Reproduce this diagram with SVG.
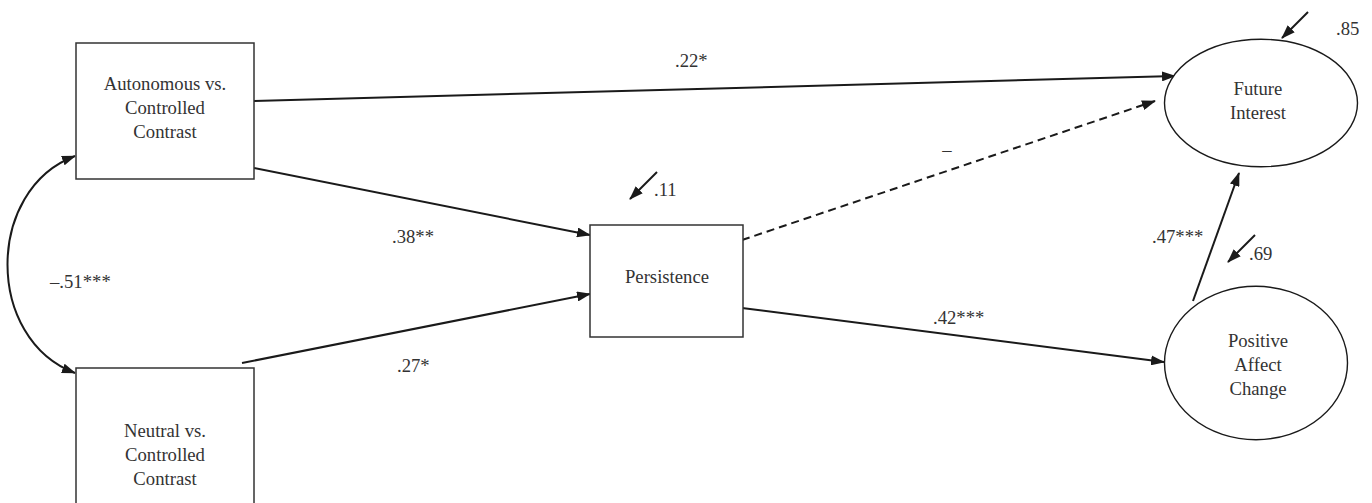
<svg xmlns="http://www.w3.org/2000/svg" width="1372" height="503" viewBox="0 0 1372 503">
<defs>
<marker id="ah" viewBox="0 0 14 10" refX="13" refY="5" markerWidth="14" markerHeight="10" markerUnits="userSpaceOnUse" orient="auto-start-reverse">
<path d="M0,0 L14,5 L0,10 z" fill="#1a1a1a"/>
</marker>
<style>
.box{fill:#fff;stroke:#333;stroke-width:1.5}
.ell{fill:#fff;stroke:#1a1a1a;stroke-width:1.4}
.edge{fill:none;stroke:#1a1a1a;stroke-width:2;marker-end:url(#ah)}
.dash{stroke-dasharray:8 5}
.c{text-anchor:middle}
</style>
</defs>
<rect width="1372" height="503" fill="#fff"/>
<g id="connectors">
<path class="edge" d="M75,156 C-15,190 -15,339 75,373" style="marker-start:url(#ah)"/>
<path class="edge" d="M254,101 L1175,76"/>
<path class="edge" d="M254,168 L590,235"/>
<path class="edge" d="M242,363 L590,294"/>
<path class="edge dash" d="M742,240 L1155,101"/>
<path class="edge" d="M742,308 L1164,362"/>
<path class="edge" d="M1193,301 L1239,173"/>
<path class="edge" d="M657,172 L630,199"/>
<path class="edge" d="M1308,12 L1282,38"/>
<path class="edge" d="M1255,235 L1228,262"/>
</g>
<g font-family="Liberation Serif, DejaVu Serif, serif" font-size="18.7" fill="#333">
<g id="labels">
<text x="50" y="288">–.51***</text>
<text x="675" y="67">.22*</text>
<text x="392" y="243">.38**</text>
<text x="397" y="372">.27*</text>
<text class="c" x="947" y="156">–</text>
<text x="933" y="324">.42***</text>
<text x="1152" y="243">.47***</text>
<text x="1249" y="260">.69</text>
<text x="1336" y="35">.85</text>
<text x="654" y="196">.11</text>
</g>
<g id="node-autonomous">
<rect class="box" x="76" y="43" width="178" height="136"/>
<text class="c" x="165" y="90">Autonomous vs.</text>
<text class="c" x="165" y="114">Controlled</text>
<text class="c" x="165" y="138">Contrast</text>
</g>
<g id="node-neutral">
<rect class="box" x="76" y="368" width="178" height="140"/>
<text class="c" x="165" y="437">Neutral vs.</text>
<text class="c" x="165" y="461">Controlled</text>
<text class="c" x="165" y="485">Contrast</text>
</g>
<g id="node-persistence">
<rect class="box" x="590" y="225" width="153" height="112"/>
<text class="c" x="667" y="283">Persistence</text>
</g>
<g id="node-future-interest">
<ellipse class="ell" cx="1261" cy="103" rx="96.5" ry="63.7"/>
<text class="c" x="1258" y="95">Future</text>
<text class="c" x="1258" y="119">Interest</text>
</g>
<g id="node-positive-affect">
<ellipse class="ell" cx="1256" cy="363" rx="91.5" ry="76.7"/>
<text class="c" x="1258" y="347">Positive</text>
<text class="c" x="1258" y="371">Affect</text>
<text class="c" x="1258" y="395">Change</text>
</g>
</g>
</svg>
